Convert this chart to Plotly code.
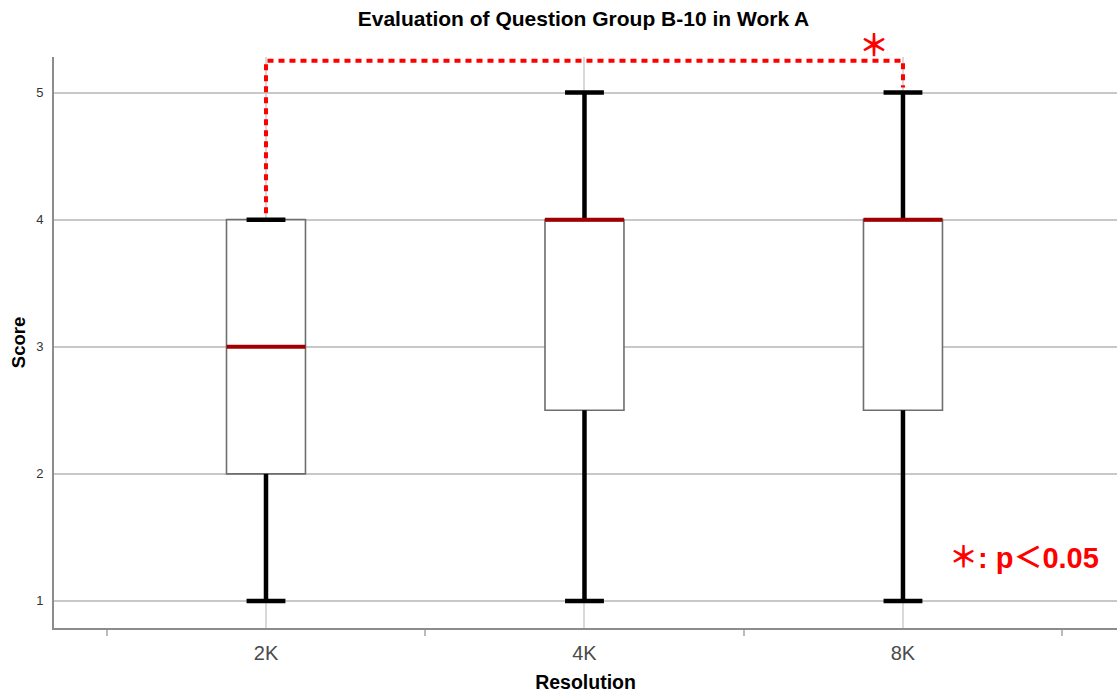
import plotly.graph_objects as go

# Score distribution per resolution
categories = ["2K", "4K", "8K"]
score_min = [1, 1, 1]
score_q1 = [2, 2.5, 2.5]
score_median = [3, 4, 4]
score_q3 = [4, 4, 4]
score_max = [4, 5, 5]
y_ticks = [1, 2, 3, 4, 5]

# Significant pair (indices into categories)
sig_pair = (0, 2)
sig_label = "＊"
sig_note = "＊: p＜0.05"

pos = list(range(len(categories)))
BOX_W = 0.248
CAP_W = 0.122
RED = "#ff0000"
FONT = "Liberation Sans, Arial, Noto Sans CJK JP, sans-serif"

fig = go.Figure()

# Boxes (thin gray outline); whiskers redrawn on top in thick black
fig.add_trace(go.Box(
    x=pos, q1=score_q1, median=score_median, q3=score_q3,
    lowerfence=score_min, upperfence=score_max,
    width=BOX_W, whiskerwidth=0,
    fillcolor="white", line=dict(color="#6e6e6e", width=1.6),
    boxpoints=False, hoverinfo="skip", showlegend=False,
))

# Whiskers
wx, wy = [], []
for p, lo, q1, q3, hi in zip(pos, score_min, score_q1, score_q3, score_max):
    wx += [p, p, None, p, p, None]
    wy += [lo, q1, None, q3, hi, None]
fig.add_trace(go.Scatter(x=wx, y=wy, mode="lines",
                         line=dict(color="black", width=4.5),
                         hoverinfo="skip", showlegend=False))

# Whisker caps
cx, cy = [], []
for p, lo, hi in zip(pos, score_min, score_max):
    cx += [p - CAP_W / 2, p + CAP_W / 2, None, p - CAP_W / 2, p + CAP_W / 2, None]
    cy += [lo, lo, None, hi, hi, None]
fig.add_trace(go.Scatter(x=cx, y=cy, mode="lines",
                         line=dict(color="black", width=4.5),
                         hoverinfo="skip", showlegend=False))

# Median lines
mx, my = [], []
for p, m in zip(pos, score_median):
    mx += [p - BOX_W / 2, p + BOX_W / 2, None]
    my += [m, m, None]
fig.add_trace(go.Scatter(x=mx, y=my, mode="lines",
                         line=dict(color="#a00000", width=4),
                         hoverinfo="skip", showlegend=False))

# Significance bracket
a, b = sig_pair
top = max(score_max) + 0.25
fig.add_trace(go.Scatter(
    x=[pos[a], pos[a], pos[b], pos[b]],
    y=[score_q3[a] + 0.05, top, top, score_max[b] + 0.04],
    mode="lines",
    line=dict(color=RED, width=4, dash="6px,5px"),
    hoverinfo="skip", showlegend=False,
))

fig.add_annotation(x=pos[b] - 0.09, y=top, yshift=18, text=sig_label,
                   showarrow=False, xanchor="center", yanchor="middle",
                   font=dict(family="Noto Sans CJK JP", size=30, color=RED,
                             weight="bold"))

fig.add_annotation(x=0.985, y=1.12, yshift=10, xref="paper", yref="y",
                   text=sig_note, showarrow=False,
                   xanchor="right", yanchor="bottom",
                   font=dict(family=FONT, size=29, color=RED, weight="bold"))

fig.update_layout(
    width=1117, height=697,
    margin=dict(l=54, r=0, t=57, b=69),
    plot_bgcolor="white", paper_bgcolor="white",
    title=dict(text="Evaluation of Question Group B-10 in Work A",
               x=0.5224, xanchor="center", y=1 - 19 / 697, yanchor="middle",
               yref="container",
               font=dict(family=FONT, size=21, color="black", weight="bold")),
    xaxis=dict(
        range=[-0.6656, 2.672],
        tickvals=pos, ticktext=categories,
        ticks="outside", ticklen=6, tickcolor="rgba(0,0,0,0)",
        tickfont=dict(family=FONT, size=20, color="#4a4a4a"),
        showgrid=True, gridcolor="#d9d9d9", gridwidth=1.5,
        showline=True, linecolor="#8c8c8c", linewidth=2,
        zeroline=False,
        minor=dict(tickmode="linear", tick0=-0.5, dtick=1,
                   ticks="outside", ticklen=6, tickcolor="#bbbbbb",
                   tickwidth=1.5, showgrid=False),
        title=dict(text="Resolution", standoff=12,
                   font=dict(family=FONT, size=19.5, color="black", weight="bold")),
    ),
    yaxis=dict(
        range=[0.787, 5.28],
        tickvals=y_ticks,
        ticks="", ticklabelstandoff=6,
        tickfont=dict(family=FONT, size=13, color="#333333"),
        showgrid=True, gridcolor="#c8c8c8", gridwidth=1.5,
        showline=True, linecolor="#8c8c8c", linewidth=2,
        zeroline=False,
        title=dict(text="Score", standoff=6,
                   font=dict(family=FONT, size=18.5, color="black", weight="bold")),
    ),
)

fig.write_html("out.html")
